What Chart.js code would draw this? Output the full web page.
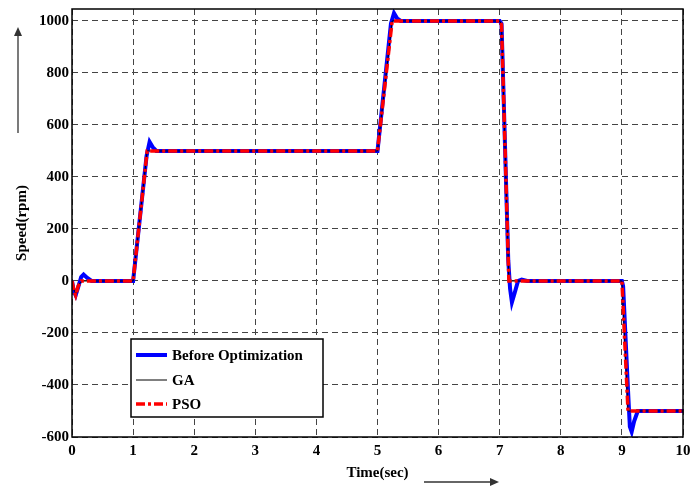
<!DOCTYPE html>
<html><head><meta charset="utf-8">
<script src="https://cdn.jsdelivr.net/npm/chart.js@4/dist/chart.umd.min.js"></script>
<style>html,body{margin:0;padding:0;background:#fff}#wrap{width:690px;height:490px}</style>
</head><body><div id="wrap"><canvas id="c" width="690" height="490"></canvas></div>
<script>
const seriesNames = ['Before Optimization', 'GA', 'PSO'];
const xTicks = [0,1,2,3,4,5,6,7,8,9,10];
const yTicks = [-600,-400,-200,0,200,400,600,800,1000];

const tBefore = [0,0.03,0.06,0.1,0.15,0.19,0.25,0.32,1,1.22,1.27,1.32,1.38,5,5.22,5.27,5.32,5.38,7,7.03,7.14,7.17,7.2,7.24,7.3,7.36,7.45,9,9.02,9.1,9.13,9.16,9.2,9.26,10];
const vBefore = [0,-40,-55,-25,15,25,12,0,0,480,535,515,500,500,990,1030,1010,1000,1000,990,80,-30,-82,-50,0,5,0,0,-20,-420,-560,-580,-540,-500,-500];

const tGA = [0,0.04,0.07,0.12,0.18,1,1.23,5,5.24,7,7.03,7.15,9,9.1,10];
const vGA = [0,-40,-50,-10,0,0,500,500,1000,1000,985,0,0,-500,-500];

const tPSO = [0,0.03,0.06,0.1,0.15,1,1.23,5,5.24,7,7.03,7.15,9,9.1,10];
const vPSO = [0,-35,-55,-20,0,0,500,500,1000,1000,985,0,0,-500,-500];

const pts = (t, v) => t.map((x, i) => ({x: x, y: v[i]}));
const serif = "'Liberation Serif', 'Times New Roman', serif";

const decor = {
  id: 'decor',
  afterDraw(chart) {
    const ctx = chart.ctx, a = chart.chartArea;
    ctx.save();
    ctx.strokeStyle = '#000'; ctx.lineWidth = 1.5; ctx.setLineDash([]);
    ctx.strokeRect(a.left, a.top, a.right - a.left, a.bottom - a.top);
    ctx.strokeStyle = '#333'; ctx.fillStyle = '#333'; ctx.lineWidth = 1.3;
    ctx.beginPath(); ctx.moveTo(18, 133); ctx.lineTo(18, 34); ctx.stroke();
    ctx.beginPath(); ctx.moveTo(18, 27); ctx.lineTo(14, 36); ctx.lineTo(22, 36); ctx.closePath(); ctx.fill();
    ctx.beginPath(); ctx.moveTo(424, 482); ctx.lineTo(492, 482); ctx.stroke();
    ctx.beginPath(); ctx.moveTo(499, 482); ctx.lineTo(490, 478); ctx.lineTo(490, 486); ctx.closePath(); ctx.fill();
    const lx = 131, ly = 339, lw = 192, lh = 78;
    ctx.fillStyle = '#fff'; ctx.fillRect(lx, ly, lw, lh);
    ctx.strokeStyle = '#000'; ctx.lineWidth = 1.5; ctx.strokeRect(lx, ly, lw, lh);
    const rows = [355, 380, 404];
    chart.data.datasets.forEach((ds, i) => {
      const y = rows[i];
      ctx.strokeStyle = ds.borderColor; ctx.lineWidth = ds.borderWidth;
      ctx.setLineDash(ds.borderDash || []);
      ctx.beginPath(); ctx.moveTo(136, y); ctx.lineTo(167, y); ctx.stroke();
      ctx.setLineDash([]);
      ctx.fillStyle = '#000'; ctx.font = 'bold 15px ' + serif;
      ctx.textBaseline = 'middle'; ctx.textAlign = 'left';
      ctx.fillText(ds.label, 172, y + 1);
    });
    ctx.restore();
  }
};

new Chart(document.getElementById('c'), {
  type: 'line',
  data: {
    datasets: [
      {label: seriesNames[0], data: pts(tBefore, vBefore), borderColor: '#0000ff', borderWidth: 4, pointRadius: 0, tension: 0, order: 3, fill: false},
      {label: seriesNames[1], data: pts(tGA, vGA), borderColor: '#000000', borderWidth: 1, pointRadius: 0, tension: 0, order: 2, fill: false},
      {label: seriesNames[2], data: pts(tPSO, vPSO), borderColor: '#ff0000', borderWidth: 3.5, borderDash: [9, 3, 3, 3], pointRadius: 0, tension: 0, order: 1, fill: false}
    ]
  },
  options: {
    animation: false, responsive: false, maintainAspectRatio: false,
    layout: {padding: {left: 0, right: 7, top: 9, bottom: 0}},
    plugins: {legend: {display: false}, tooltip: {enabled: false}},
    scales: {
      x: {
        type: 'linear', min: 0, max: 10,
        afterFit: s => { s.height = 53; s.paddingRight = 0; s.paddingLeft = 0; },
        afterBuildTicks: s => { s.ticks = xTicks.map(v => ({value: v})); },
        ticks: {font: {family: serif, size: 15, weight: 'bold'}, color: '#000', padding: 5, maxRotation: 0, callback: v => String(v)},
        grid: {color: '#444', lineWidth: 1, drawTicks: false},
        border: {display: false, dash: [6, 4]},
        title: {display: true, text: 'Time(sec)', font: {family: serif, size: 15, weight: 'bold'}, color: '#000', padding: {top: 0, bottom: 8}}
      },
      y: {
        type: 'linear', min: -600, max: 1046,
        afterFit: s => { s.width = 72; s.paddingTop = 0; s.paddingBottom = 0; },
        afterBuildTicks: s => { s.ticks = yTicks.map(v => ({value: v})); },
        ticks: {font: {family: serif, size: 15, weight: 'bold'}, color: '#000', padding: 3, callback: v => String(v)},
        grid: {color: '#444', lineWidth: 1, drawTicks: false},
        border: {display: false, dash: [6, 4]},
        title: {display: true, text: 'Speed(rpm)', font: {family: serif, size: 15, weight: 'bold'}, color: '#000', padding: {top: 13, bottom: 0}}
      }
    }
  },
  plugins: [decor]
});
</script>
</body></html>
